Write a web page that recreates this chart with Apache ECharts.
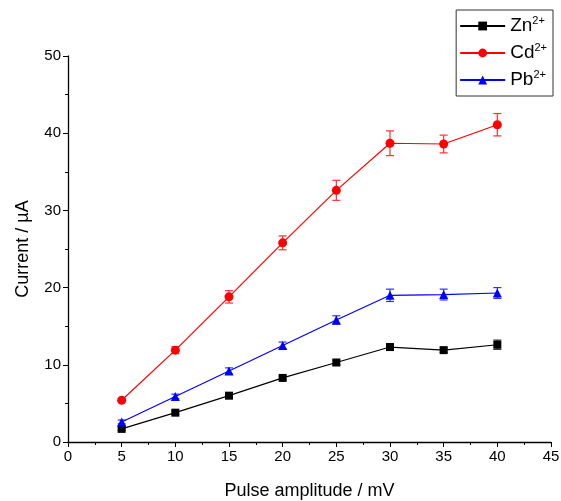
<!DOCTYPE html>
<html>
<head>
<meta charset="utf-8">
<script src="https://cdn.jsdelivr.net/npm/echarts@6/dist/echarts.min.js"></script>
<style>
  html, body { margin: 0; padding: 0; background: #fff; }
  #chart { width: 561px; height: 501px; }
</style>
</head>
<body>
<div id="chart"></div>
<script>
const pulse = [5, 10, 15, 20, 25, 30, 35, 40];
const zn = [1.7, 3.8, 6.0, 8.3, 10.3, 12.3, 11.9, 12.6];
const znErr = [0.2, 0.2, 0.2, 0.25, 0.3, 0.4, 0.3, 0.6];
const cd = [5.4, 11.9, 18.8, 25.8, 32.6, 38.7, 38.6, 41.1];
const cdErr = [0.2, 0.45, 0.8, 0.9, 1.3, 1.6, 1.15, 1.45];
const pb = [2.6, 5.9, 9.2, 12.5, 15.8, 19.0, 19.1, 19.3];
const pbErr = [0.25, 0.3, 0.4, 0.45, 0.55, 0.8, 0.7, 0.7];

const font = 'Liberation Sans, Arial, sans-serif';

const chart = echarts.init(document.getElementById('chart'));

function errorSeries(name, vals, errs, color) {
  return {
    name: name,
    type: 'custom',
    z: 1,
    silent: true,
    data: pulse.map((x, i) => [x, vals[i] - errs[i], vals[i] + errs[i]]),
    renderItem: (params, api) => {
      const lo = api.coord([api.value(0), api.value(1)]);
      const hi = api.coord([api.value(0), api.value(2)]);
      const w = 4;
      const style = { stroke: color, lineWidth: 1.2 };
      return {
        type: 'group',
        children: [
          { type: 'line', shape: { x1: lo[0], y1: lo[1], x2: hi[0], y2: hi[1] }, style: style },
          { type: 'line', shape: { x1: lo[0] - w, y1: lo[1], x2: lo[0] + w, y2: lo[1] }, style: style },
          { type: 'line', shape: { x1: hi[0] - w, y1: hi[1], x2: hi[0] + w, y2: hi[1] }, style: style },
        ],
      };
    },
  };
}

function lineSeries(name, vals, color, symbol, size) {
  return {
    name: name,
    type: 'line',
    z: 3,
    data: pulse.map((x, i) => [x, vals[i]]),
    symbol: symbol,
    symbolSize: size,
    showAllSymbol: true,
    lineStyle: { color: color, width: 1.2 },
    itemStyle: { color: color },
    emphasis: { disabled: true },
  };
}

const legendNames = { Zn: 'Zn{sup|2+}', Cd: 'Cd{sup|2+}', Pb: 'Pb{sup|2+}' };

const option = {
  animation: false,
  backgroundColor: '#fff',
  grid: { left: 68, right: 10, top: 56, bottom: 59, outerBoundsMode: 'none', containLabel: false },
  legend: {
    data: ['Zn', 'Cd', 'Pb'],
    orient: 'vertical',
    right: 8,
    top: 10,
    itemWidth: 45,
    itemHeight: 11,
    itemGap: 5,
    padding: [5, 6, 5, 3],
    borderColor: '#333',
    borderWidth: 1,
    borderRadius: 0,
    formatter: n => legendNames[n],
    textStyle: {
      fontFamily: font,
      fontSize: 19,
      color: '#000',
      lineHeight: 22,
      rich: {
        sup: { fontSize: 11, verticalAlign: 'top', lineHeight: 12, padding: [0, 0, 10, 0], fontFamily: font, color: '#000' },
      },
    },
  },
  xAxis: {
    type: 'value',
    min: 0,
    max: 45,
    interval: 5,
    name: 'Pulse amplitude / mV',
    nameLocation: 'middle',
    nameGap: 40,
    nameTextStyle: { fontFamily: font, fontSize: 18, color: '#000' },
    axisLine: { lineStyle: { color: '#000', width: 1.3 } },
    axisTick: { inside: false, length: 5, lineStyle: { color: '#000' } },
    minorTick: { show: true, splitNumber: 2, length: 3, lineStyle: { color: '#000' } },
    axisLabel: { fontFamily: font, fontSize: 15, color: '#000', margin: 7 },
    splitLine: { show: false },
  },
  yAxis: {
    type: 'value',
    min: 0,
    max: 50,
    interval: 10,
    name: 'Current / µA',
    nameLocation: 'middle',
    nameGap: 36,
    nameTextStyle: { fontFamily: font, fontSize: 18, color: '#000' },
    axisLine: { show: true, lineStyle: { color: '#000', width: 1.3 } },
    axisTick: { show: true, inside: false, length: 5, lineStyle: { color: '#000' } },
    minorTick: { show: true, splitNumber: 2, length: 3, lineStyle: { color: '#000' } },
    axisLabel: { fontFamily: font, fontSize: 15, color: '#000', margin: 7 },
    splitLine: { show: false },
  },
  series: [
    errorSeries('ZnErr', zn, znErr, '#333'),
    errorSeries('CdErr', cd, cdErr, '#ff3030'),
    errorSeries('PbErr', pb, pbErr, '#3030ff'),
    lineSeries('Zn', zn, '#000', 'rect', 8),
    lineSeries('Cd', cd, '#ff0000', 'circle', 9),
    lineSeries('Pb', pb, '#0000ff', 'triangle', 9),
  ],
};

chart.setOption(option);
</script>
</body>
</html>
